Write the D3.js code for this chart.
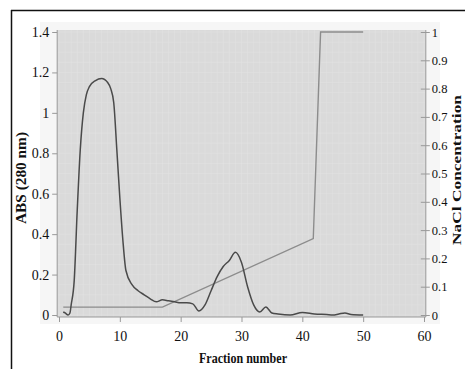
<!DOCTYPE html>
<html><head><meta charset="utf-8">
<script src="https://cdn.jsdelivr.net/npm/d3@7"></script>
<style>html,body{margin:0;padding:0;background:#fff;}svg{display:block;}</style>
</head><body>
<script>
// ---- data ----
const absFractions = [0.7,1.0,1.5,1.8,2.0,2.5,3.0,3.5,4.0,4.5,5.0,6.0,7.0,8.0,8.5,9.0,9.5,10.0,10.5,11.0,12.0,13.0,14.0,15.0,16.0,17.0,18.0,19.0,20.0,21.0,22.0,23.0,24.0,25.0,26.0,27.0,28.0,29.0,30.0,31.0,32.0,33.0,34.0,35.0,36.0,38.0,40.0,42.0,44.0,45.0,46.0,47.0,48.0,50.0];
const absValues    = [0.015,0.01,0.0,0.01,0.05,0.17,0.52,0.82,1.0,1.09,1.13,1.16,1.17,1.15,1.12,1.05,0.82,0.58,0.37,0.22,0.15,0.12,0.10,0.08,0.065,0.075,0.07,0.065,0.06,0.06,0.055,0.02,0.05,0.12,0.19,0.24,0.27,0.31,0.26,0.14,0.05,0.015,0.04,0.01,0.005,0.0,0.012,0.005,0.002,0.0,0.005,0.01,0.003,0.0];
const naclFractions = [0.7,17,41.8,43,50];
const naclValues    = [0.028,0.028,0.27,1.0,1.0];
const xTicks = [0,10,20,30,40,50,60];
const leftTicks = [0,0.2,0.4,0.6,0.8,1,1.2,1.4];
const rightTicks = [0,0.1,0.2,0.3,0.4,0.5,0.6,0.7,0.8,0.9,1];
const xTitle = "Fraction number";
const leftTitle = "ABS (280 nm)";
const rightTitle = "NaCl Concentration";

const W = 465, H = 369;
const svg = d3.select("body").append("svg").attr("width", W).attr("height", H);
const x = d3.scaleLinear().domain([0,60]).range([59,424]);
const yL = d3.scaleLinear().domain([0,1.4]).range([315,32]);
const yR = d3.scaleLinear().domain([0,1]).range([315,32]);
const font = "'Liberation Serif','Times New Roman',serif";

// outer frame
svg.append("line").attr("x1",11).attr("x2",W).attr("y1",10.5).attr("y2",10.5).attr("stroke","#111").attr("stroke-width",1.5);
svg.append("line").attr("x1",11.5).attr("x2",11.5).attr("y1",10).attr("y2",H).attr("stroke","#111").attr("stroke-width",1.5);

// light scan surround
svg.append("rect").attr("x",40).attr("y",22).attr("width",400).attr("height",302).attr("fill","#f6f6f6");

// plot background
const bx0 = x(-0.3), bx1 = x(60.3), by0 = yL(1.4)-2, by1 = yL(0)+2;
svg.append("rect").attr("x",bx0).attr("y",by0).attr("width",bx1-bx0).attr("height",by1-by0).attr("fill","#dadada");
// faint grid texture
const gridG = svg.append("g").attr("stroke","#e2e2e2").attr("stroke-width",0.5);
gridG.selectAll("line.v").data(d3.range(0,61,1)).join("line")
  .attr("x1",d=>x(d)).attr("x2",d=>x(d)).attr("y1",by0).attr("y2",by1);
gridG.selectAll("line.h").data(d3.range(0,1.401,0.05)).join("line")
  .attr("y1",d=>yL(d)).attr("y2",d=>yL(d)).attr("x1",bx0).attr("x2",bx1);

// plot edges
svg.append("line").attr("x1",bx0).attr("x2",bx0).attr("y1",by0).attr("y2",by1).attr("stroke","#999").attr("stroke-width",1);
svg.append("line").attr("x1",bx0).attr("x2",bx1).attr("y1",by1).attr("y2",by1).attr("stroke","#999").attr("stroke-width",1);
svg.append("line").attr("x1",bx1).attr("x2",bx1).attr("y1",by0).attr("y2",by1).attr("stroke","#999").attr("stroke-width",1);

// axes
const axL = svg.append("g").attr("transform",`translate(${bx0},0)`)
  .call(d3.axisLeft(yL).tickValues(leftTicks).tickFormat(d=>String(d)).tickSize(5).tickPadding(3));
const axR = svg.append("g").attr("transform",`translate(${bx1},0)`)
  .call(d3.axisRight(yR).tickValues(rightTicks).tickFormat(d=>String(d)).tickSize(4).tickPadding(2));
const axB = svg.append("g").attr("transform",`translate(0,${by1})`)
  .call(d3.axisBottom(x).tickValues(xTicks).tickFormat(d=>String(d)).tickSize(5).tickPadding(9));
[axL,axR,axB].forEach(g=>{
  g.select(".domain").remove();
  g.selectAll(".tick line").attr("stroke","#999");
  g.selectAll("text").attr("font-family",font).attr("font-size",14).attr("fill","#111");
});
axR.selectAll(".tick line").attr("x1",-5);
axR.selectAll("text").attr("font-size",12.5);

// NaCl line
svg.append("path").datum(naclFractions.map((f,i)=>[f,naclValues[i]]))
  .attr("fill","none").attr("stroke","#8c8c8c").attr("stroke-width",1.4)
  .attr("d", d3.line().x(d=>x(d[0])).y(d=>yR(d[1])));

// ABS line
svg.append("path").datum(absFractions.map((f,i)=>[f,absValues[i]]))
  .attr("fill","none").attr("stroke","#4a4a4a").attr("stroke-width",1.5)
  .attr("d", d3.line().curve(d3.curveMonotoneX).x(d=>x(d[0])).y(d=>yL(d[1])));

// titles
svg.append("text").attr("x",243).attr("y",363).attr("text-anchor","middle")
  .attr("font-family",font).attr("font-weight","bold").attr("font-size",15).attr("fill","#111")
  .attr("textLength",88).attr("lengthAdjust","spacingAndGlyphs").text(xTitle);
svg.append("text").attr("transform","translate(26,178) rotate(-90)").attr("text-anchor","middle")
  .attr("font-family",font).attr("font-weight","bold").attr("font-size",14).attr("fill","#111")
  .attr("textLength",92).attr("lengthAdjust","spacingAndGlyphs").text(leftTitle);
svg.append("text").attr("transform","translate(461,170) rotate(-90)").attr("text-anchor","middle")
  .attr("font-family",font).attr("font-weight","bold").attr("font-size",13.5).attr("fill","#111")
  .attr("textLength",150).attr("lengthAdjust","spacingAndGlyphs").text(rightTitle);
</script>
</body></html>
